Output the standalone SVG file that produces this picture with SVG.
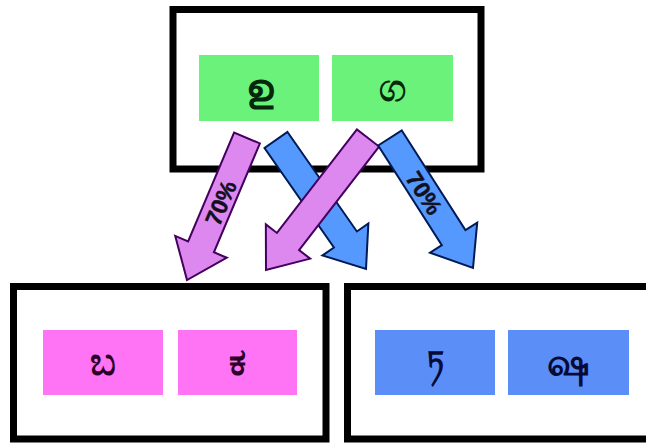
<svg xmlns="http://www.w3.org/2000/svg" width="646" height="444" viewBox="0 0 646 444">
<style>
.box{fill:#ffffff;stroke:#000000;stroke-width:7}
.g{fill:#6bf27b}
.p{fill:#ff73f5}
.b{fill:#5b8ef7}
.glyph{font-family:"Noto Sans","DejaVu Sans",sans-serif;font-size:30px;font-weight:bold;text-anchor:middle;dominant-baseline:central}
.big{font-size:38px}
.pa{fill:#dd88ee;stroke:#44005e;stroke-width:2;stroke-linejoin:miter}
.ba{fill:#5599ff;stroke:#001a55;stroke-width:2;stroke-linejoin:miter}
.lbl{font-family:"Liberation Sans",Arial,sans-serif;font-size:23px;font-weight:bold;fill:#10101e;stroke:#10101e;stroke-width:0.5;text-anchor:middle;dominant-baseline:central}
</style>
<rect width="646" height="444" fill="#ffffff"/>
<g id="top">
<rect class="box" x="173" y="9.5" width="308" height="159.5"/>
<rect class="g" x="199" y="55" width="120" height="66"/>
<text class="glyph big" x="259" y="86" fill="#05280a">ഉ</text>
<rect class="g" x="332" y="55" width="121" height="66"/>
<text class="glyph big" x="392.5" y="86" fill="#05280a">ග</text>
</g>
<g id="left">
<rect class="box" x="13.5" y="286.5" width="312.5" height="152.5"/>
<rect class="p" x="43" y="330" width="120" height="65"/>
<text class="glyph big" x="103" y="360" fill="#2a0028">ಬ</text>
<rect class="p" x="178" y="330" width="119" height="65"/>
<text class="glyph big" x="237.5" y="360" fill="#2a0028">ಕ</text>
</g>
<g id="right">
<rect class="box" x="347.5" y="286.5" width="310" height="152.5"/>
<rect class="b" x="375" y="330" width="120" height="65"/>
<text class="glyph" x="435" y="360" fill="#050a38">ཏ</text>
<rect class="b" x="508" y="330" width="121" height="65"/>
<text class="glyph big" x="568.5" y="360" fill="#050a38">ஷ</text>
</g>
<g id="connectors">
<polygon class="ba" points="287.48,131.99 356.88,231.47 368.36,223.46 366,269 322.44,255.5 333.92,247.49 264.52,148.01"/>
<polygon class="pa" points="259.90,143.45 213.91,252.29 226.80,257.74 187,280 175.22,235.94 188.11,241.39 234.10,132.55"/>
<polygon class="pa" points="379.08,146.56 299.09,250.07 310.17,258.63 266,270 265.85,224.39 276.93,232.95 356.92,129.44"/>
<polygon class="ba" points="401.80,130.47 465.42,230.12 477.22,222.58 473,268 430.02,252.72 441.82,245.18 378.20,145.53"/>
<text class="lbl" transform="translate(221,203) rotate(-67)">70%</text>
<text class="lbl" transform="translate(424,193) rotate(57.4)">70%</text>
</g>
</svg>
